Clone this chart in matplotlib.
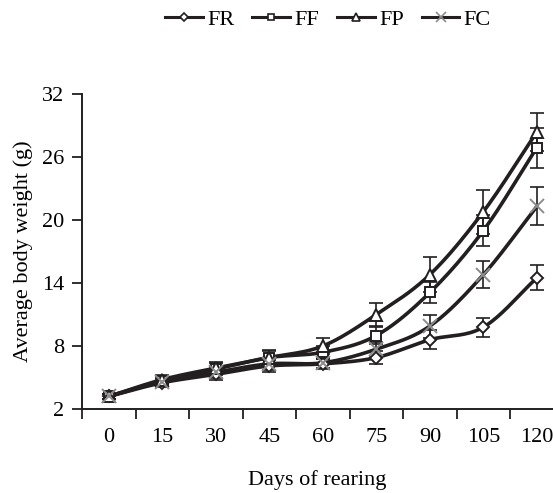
import numpy as np
import matplotlib
matplotlib.use("Agg")
import matplotlib.pyplot as plt
from matplotlib.lines import Line2D

plt.rcParams['font.family'] = ['Liberation Serif', 'DejaVu Serif']

days = ["0", "15", "30", "45", "60", "75", "90", "105", "120"]
fr = [3.2, 4.5, 5.3, 6.1, 6.3, 6.9, 8.6, 9.8, 14.5]
ff = [3.2, 4.7, 5.8, 6.9, 7.4, 9.0, 13.1, 19.0, 26.9]
fp = [3.2, 4.8, 5.9, 6.9, 8.0, 11.0, 14.8, 20.8, 28.4]
fc = [3.2, 4.6, 5.5, 6.3, 6.4, 7.7, 9.9, 14.8, 21.3]
fr_err = [0.2, 0.4, 0.5, 0.6, 0.5, 0.6, 0.9, 0.9, 1.2]
ff_err = [0.2, 0.4, 0.6, 0.6, 0.6, 0.8, 1.0, 1.5, 1.9]
fp_err = [0.2, 0.4, 0.6, 0.7, 0.8, 1.1, 1.7, 2.1, 1.8]
fc_err = [0.2, 0.4, 0.5, 0.6, 0.5, 0.7, 1.1, 1.3, 1.8]
yticks = [2, 8, 14, 20, 26, 32]

LINE = '#231f20'


def smooth(x, y, n=20):
    x = np.asarray(x, float)
    y = np.asarray(y, float)
    px = np.concatenate([[2 * x[0] - x[1]], x, [2 * x[-1] - x[-2]]])
    py = np.concatenate([[2 * y[0] - y[1]], y, [2 * y[-1] - y[-2]]])
    xs, ys = [], []
    t = np.linspace(0, 1, n, endpoint=False)
    for i in range(1, len(px) - 2):
        def cr(a0, a1, a2, a3):
            return 0.5 * ((2 * a1) + (-a0 + a2) * t + (2 * a0 - 5 * a1 + 4 * a2 - a3) * t ** 2
                          + (-a0 + 3 * a1 - 3 * a2 + a3) * t ** 3)
        xs.append(cr(px[i - 1], px[i], px[i + 1], px[i + 2]))
        ys.append(cr(py[i - 1], py[i], py[i + 1], py[i + 2]))
    xs.append([x[-1]])
    ys.append([y[-1]])
    return np.concatenate(xs), np.concatenate(ys)


fig = plt.figure(figsize=(5.53, 4.93), dpi=100)
ax = fig.add_axes([82 / 553, 1 - 409 / 493, 1 - 82 / 553, (409 - 94) / 493])

x = np.arange(len(days))
series = [
    ("FR", fr, fr_err, 'D', 'white', LINE, 6.5),
    ("FF", ff, ff_err, 's', 'white', LINE, 7),
    ("FP", fp, fp_err, '^', 'white', LINE, 8),
    ("FC", fc, fc_err, 'x', 'none', '#8c8c8c', 10),
]

for name, vals, err, m, mfc, mec, ms in series:
    ax.errorbar(x, vals, yerr=err, fmt='none', ecolor=LINE, elinewidth=1.2,
                capsize=5, capthick=1.2, zorder=2)
    sx, sy = smooth(x, vals)
    ax.plot(sx, sy, color=LINE, lw=2.6, zorder=3, solid_capstyle='round')
for name, vals, err, m, mfc, mec, ms in series:
    ax.plot(x, vals, linestyle='none', marker=m, markersize=ms,
            markerfacecolor=mfc, markeredgecolor=mec, markeredgewidth=1.4, zorder=4)

ax.set_xlim(-0.5, 8.3)
ax.set_ylim(2, 32)
ax.set_yticks(yticks)
ax.set_yticklabels([str(v) for v in yticks])
ax.set_xticks(x)
ax.set_xticklabels(days)
ax.set_xticks(np.arange(-0.5, 8.5, 1.0), minor=True)
ax.tick_params(axis='x', which='major', length=0, pad=14, labelsize=16)
ax.tick_params(axis='x', which='minor', length=7, width=1.3, direction='out', color=LINE)
ax.tick_params(axis='y', which='major', length=7, width=1.3, direction='out', color=LINE,
               labelsize=16, pad=6)
for s in ['top', 'right']:
    ax.spines[s].set_visible(False)
for s in ['left', 'bottom']:
    ax.spines[s].set_linewidth(1.4)
    ax.spines[s].set_color(LINE)

ax.set_xlabel("Days of rearing", fontsize=16, labelpad=16)
ax.set_ylabel("Average body weight (g)", fontsize=16, labelpad=6)

handles = []
for name, vals, err, m, mfc, mec, ms in series:
    handles.append(Line2D([], [], color=LINE, lw=2.2, marker=m, markersize=ms * 0.7,
                          markerfacecolor=mfc, markeredgecolor=mec, markeredgewidth=1.2,
                          label=name))
fig.legend(handles=handles, loc='center', bbox_to_anchor=(328 / 553, 1 - 20 / 493),
           ncol=4, frameon=False, fontsize=16, handlelength=1.7, handletextpad=0.2,
           columnspacing=0.8, borderaxespad=0)

fig.savefig("out.png", dpi=100)
